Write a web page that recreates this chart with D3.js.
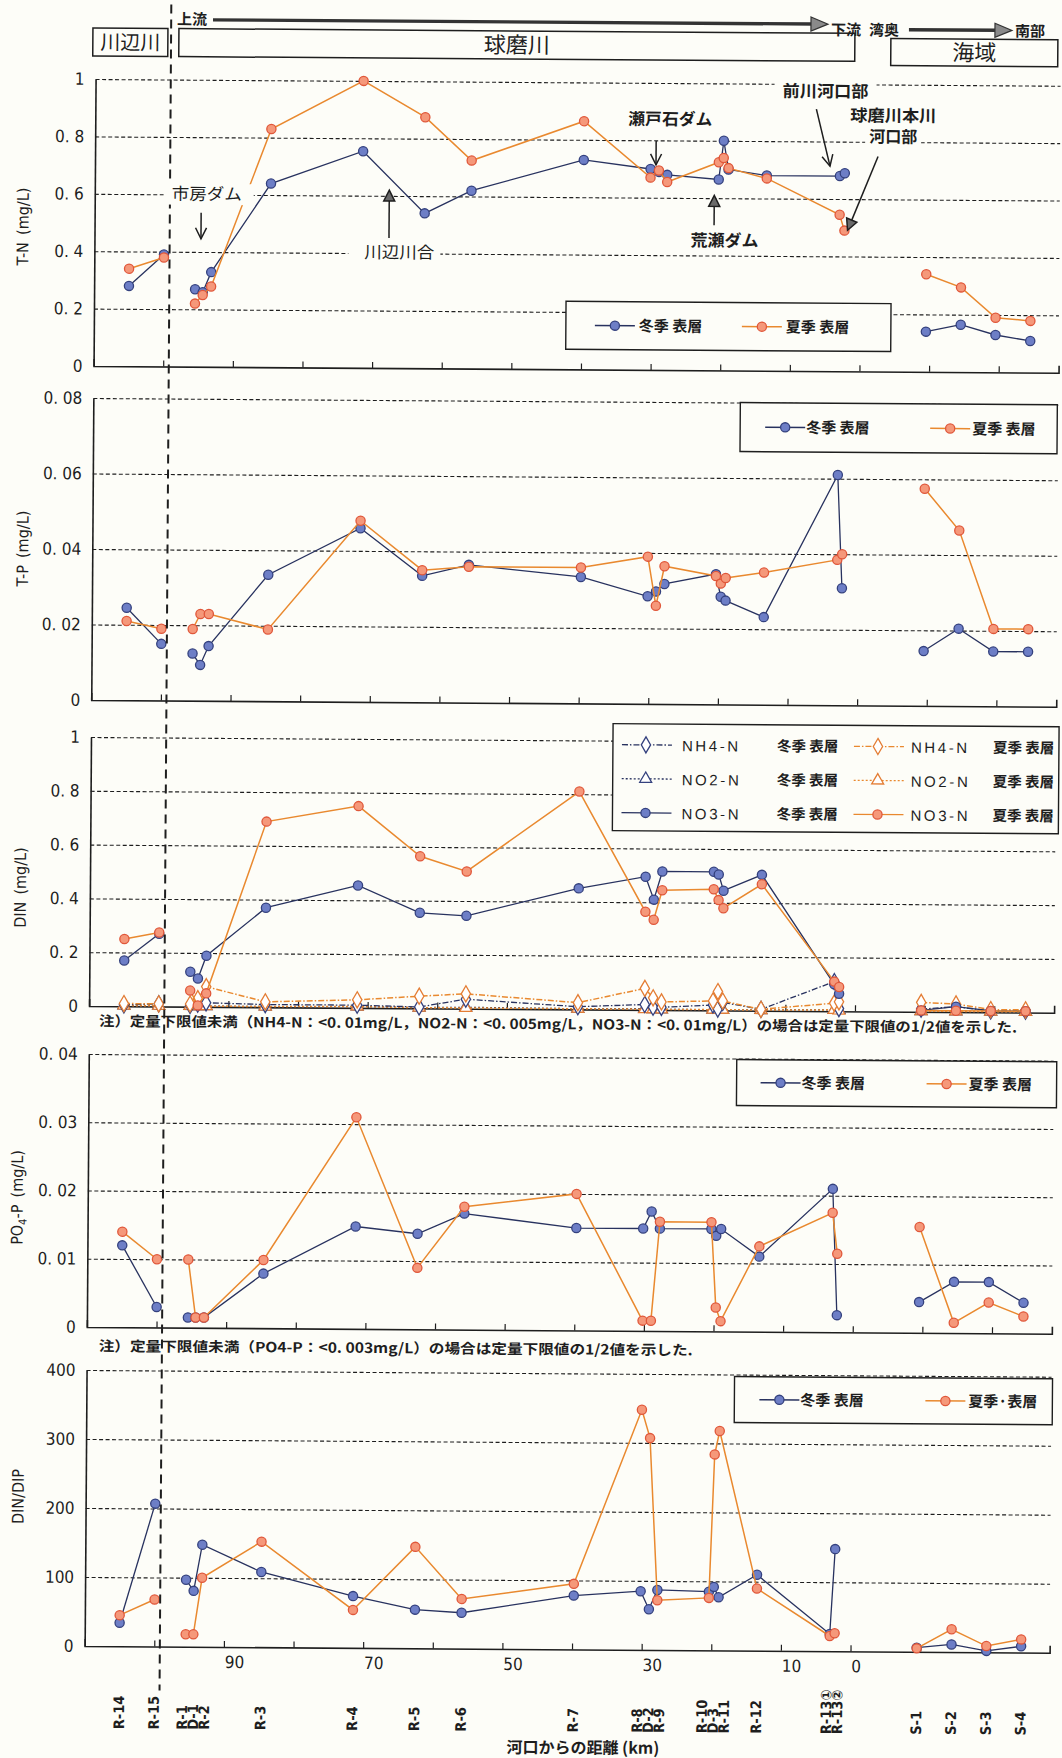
<!DOCTYPE html>
<html lang="ja">
<head>
<meta charset="utf-8">
<title>球磨川 水質縦断図</title>
<script src="https://cdn.jsdelivr.net/npm/d3@7"></script>
<style>
  body { margin: 0; background: #fdfdf8; }
  svg { display: block; }
</style>
</head>
<body>
<div id="chart"></div>
<script>
"use strict";

// stations, upstream (left) to sea (right); sea stations get pseudo km past the mouth
const stations = ["R-14", "R-15", "R-1", "D-1", "R-2", "R-3", "R-4", "R-5", "R-6", "R-7",
  "R-8", "D-2", "R-9", "R-10", "D-3", "R-11", "R-12", "R-13①", "R-13②", "S-1", "S-2", "S-3", "S-4"];
const stationKm = [105, 100, 95.5, 94.4, 93.2, 84.7, 71.5, 62.6, 55.9, 39.8,
  30.2, 29.0, 27.8, 20.4, 19.7, 19.0, 13.5, 3.0, 2.3, -9.5, -14.5, -19.5, -24.5];
const runs = [[0, 1], [2, 18], [19, 22]];   // index ranges joined by a line

const xTicksKm = [100, 90, 80, 70, 60, 50, 40, 30, 20, 10, 0, -10, -20];
const xLabelsKm = [90, 70, 50, 30, 10, 0];

const tnTicks = [0, 0.2, 0.4, 0.6, 0.8, 1];
const tpTicks = [0, 0.02, 0.04, 0.06, 0.08];
const dinTicks = [0, 0.2, 0.4, 0.6, 0.8, 1];
const po4Ticks = [0, 0.01, 0.02, 0.03, 0.04];
const ratioTicks = [0, 100, 200, 300, 400];

const tnWinter = [0.28, 0.39, 0.27, 0.26, 0.33, 0.64, 0.755, 0.54, 0.62, 0.73,
  0.70, 0.69, 0.68, 0.665, 0.80, 0.70, 0.68, 0.68, 0.69, 0.14, 0.165, 0.13, 0.11];
const tnSummer = [0.34, 0.38, 0.22, 0.25, 0.28, 0.83, 1.0, 0.875, 0.725, 0.865,
  0.67, 0.695, 0.655, 0.725, 0.74, 0.705, 0.67, 0.545, 0.49, 0.34, 0.295, 0.19, 0.18];

const tpWinter = [0.0245, 0.015, 0.0125, 0.0095, 0.0145, 0.0335, 0.046, 0.0335, 0.0365, 0.0335,
  0.0285, 0.0298, 0.0318, 0.0345, 0.0285, 0.0275, 0.0232, 0.061, 0.031, 0.0145, 0.0205, 0.0145, 0.0145];
const tpSummer = [0.021, 0.019, 0.019, 0.023, 0.023, 0.019, 0.048, 0.035, 0.036, 0.036,
  0.039, 0.026, 0.0365, 0.034, 0.032, 0.0335, 0.035, 0.0385, 0.040, 0.0575, 0.0465, 0.0205, 0.0205];

const no3Winter = [0.17, 0.27, 0.13, 0.105, 0.19, 0.37, 0.455, 0.355, 0.345, 0.45,
  0.495, 0.41, 0.515, 0.515, 0.505, 0.445, 0.505, 0.10, 0.065, 0.005, 0.02, 0.005, 0.005];
const no3Summer = [0.25, 0.275, 0.06, 0.005, 0.05, 0.69, 0.75, 0.565, 0.51, 0.81,
  0.365, 0.335, 0.445, 0.45, 0.41, 0.38, 0.47, 0.11, 0.09, 0.005, 0.005, 0.005, 0.005];
const nh4Winter = [0.005, 0.01, 0.005, 0.01, 0.015, 0.01, 0.01, 0.005, 0.035, 0.01,
  0.02, 0.01, 0.01, 0.02, 0.005, 0.03, 0.005, 0.11, 0.01, 0.01, 0.02, 0.005, 0.005];
const nh4Summer = [0.01, 0.01, 0.01, 0.03, 0.075, 0.02, 0.03, 0.045, 0.055, 0.025,
  0.08, 0.045, 0.03, 0.035, 0.07, 0.035, 0.005, 0.03, 0.035, 0.035, 0.03, 0.01, 0.01];
const no2Winter = [0.0025, 0.0025, 0.0025, 0.0025, 0.0025, 0.0025, 0.005, 0.0025, 0.005, 0.0025,
  0.005, 0.0025, 0.0025, 0.0025, 0.0025, 0.0025, 0.0025, 0.005, 0.005, 0.0025, 0.0025, 0.0025, 0.0025];
const no2Summer = [0.0025, 0.0025, 0.0025, 0.0025, 0.0025, 0.0025, 0.005, 0.0025, 0.0025, 0.0025,
  0.0025, 0.0025, 0.0025, 0.0025, 0.0025, 0.0025, 0.0025, 0.005, 0.0025, 0.0025, 0.0025, 0.0025, 0.0025];

const po4Winter = [0.012, 0.003, 0.0015, 0.0015, 0.0015, 0.008, 0.015, 0.014, 0.017, 0.015,
  0.015, 0.0175, 0.015, 0.015, 0.014, 0.015, 0.011, 0.021, 0.0025, 0.0045, 0.0075, 0.0075, 0.0045];
const po4Summer = [0.014, 0.010, 0.010, 0.0015, 0.0015, 0.010, 0.031, 0.009, 0.018, 0.020,
  0.0015, 0.0015, 0.016, 0.016, 0.0035, 0.0015, 0.0125, 0.0175, 0.0115, 0.0155, 0.0015, 0.0045, 0.0025];

const ratioWinter = [34, 207, 97, 81, 148, 109, 75, 56, 52, 78,
  85, 59, 87, 85, 92, 77, 110, 25, 148, 6, 11, 2, 9];
const ratioSummer = [45, 68, 18, 18, 100, 153, 55, 147, 72, 95,
  348, 307, 72, 76, 284, 318, 90, 22, 26, 5, 33, 9, 19];

// ---------- drawing ----------
const W = 1062, H = 1758;
const X0 = 90, X1 = 1055;
const fontNum = '"Liberation Sans Narrow","DejaVu Sans Condensed","Liberation Sans",sans-serif';
const fontJa = '"Noto Sans CJK JP","Noto Sans CJK SC",sans-serif';
const ink = "#1e1e1e";
const bg = "#fdfdf8";
const col = {
  w: { line: "#28325f", fill: "#6d7ec6", stroke: "#34417e", open: "#34417e" },
  s: { line: "#e9892f", fill: "#f5987a", stroke: "#e0573a", open: "#e47d34" }
};

const svg = d3.select("#chart").append("svg").attr("width", W).attr("height", H);
svg.append("rect").attr("width", W).attr("height", H).attr("fill", bg);
// the scanned page sits slightly rotated
const root = svg.append("g").attr("transform", "rotate(0.4,90,879)");

const x = d3.scaleLinear().domain([110, -28.6]).range([X0, X1]);
const fmtTick = t => String(+t.toFixed(4)).replace(".", ". ");

function mark(sel, shape, kind, cx, cy) {
  const c = col[kind];
  if (shape === "circle") {
    sel.append("circle").attr("cx", cx).attr("cy", cy).attr("r", 4.6)
      .attr("fill", c.fill).attr("stroke", c.stroke).attr("stroke-width", 1.3);
  } else {
    const sym = shape === "diamond" ? d3.symbol(d3.symbolDiamond, 75) : d3.symbol(d3.symbolTriangle, 62);
    sel.append("path").attr("transform", `translate(${cx},${cy})`).attr("d", sym())
      .attr("fill", "#fff").attr("stroke", c.open).attr("stroke-width", 1.3);
  }
}

const panels = [
  { top: 79, bottom: 366, max: 1, ticks: tnTicks, title: "T-N\u2002(mg/L)", tx: 24, ty: 227,
    series: [{ v: tnWinter, kind: "w", shape: "circle" }, { v: tnSummer, kind: "s", shape: "circle" }],
    legend: { x: 562, y: 298, w: 325, h: 48, items: [
      { kind: "w", shape: "circle", lx: 29, tx: 73, label: "冬季 表層" },
      { kind: "s", shape: "circle", lx: 176, tx: 220, label: "夏季 表層" }] } },
  { top: 398, bottom: 700, max: 0.08, ticks: tpTicks, title: "T-P\u2002(mg/L)", tx: 26, ty: 549,
    series: [{ v: tpWinter, kind: "w", shape: "circle" }, { v: tpSummer, kind: "s", shape: "circle" }],
    legend: { x: 737, y: 398, w: 317, h: 49, items: [
      { kind: "w", shape: "circle", lx: 25, tx: 66, label: "冬季 表層" },
      { kind: "s", shape: "circle", lx: 190, tx: 232, label: "夏季 表層" }] } },
  { top: 737, bottom: 1006, max: 1, ticks: dinTicks, title: "DIN\u2002(mg/L)", tx: 26, ty: 888,
    series: [
      { v: no2Winter, kind: "w", shape: "triangle", dash: "2,2" },
      { v: no2Summer, kind: "s", shape: "triangle", dash: "2,2" },
      { v: nh4Winter, kind: "w", shape: "diamond", dash: "6,2,1.5,2" },
      { v: nh4Summer, kind: "s", shape: "diamond", dash: "6,2,1.5,2" },
      { v: no3Winter, kind: "w", shape: "circle" },
      { v: no3Summer, kind: "s", shape: "circle" }] },
  { top: 1054, bottom: 1327, max: 0.04, ticks: po4Ticks, title: null, tx: 25, ty: 1198,
    series: [{ v: po4Winter, kind: "w", shape: "circle" }, { v: po4Summer, kind: "s", shape: "circle" }],
    legend: { x: 738, y: 1055, w: 320, h: 46, items: [
      { kind: "w", shape: "circle", lx: 24, tx: 65, label: "冬季 表層" },
      { kind: "s", shape: "circle", lx: 190, tx: 232, label: "夏季 表層" }] } },
  { top: 1370, bottom: 1646, max: 400, ticks: ratioTicks, title: "DIN/DIP", tx: 28, ty: 1497,
    series: [{ v: ratioWinter, kind: "w", shape: "circle" }, { v: ratioSummer, kind: "s", shape: "circle" }],
    legend: { x: 738, y: 1372, w: 318, h: 46, items: [
      { kind: "w", shape: "circle", lx: 25, tx: 66, label: "冬季 表層" },
      { kind: "s", shape: "circle", lx: 191, tx: 234, label: "夏季·表層" }] } }
];

function drawLegend(g, L) {
  const lg = g.append("g").attr("transform", `translate(${L.x},${L.y})`);
  lg.append("rect").attr("width", L.w).attr("height", L.h).attr("fill", bg)
    .attr("stroke", ink).attr("stroke-width", 1.4);
  L.items.forEach(it => {
    const cy = L.h / 2;
    lg.append("line").attr("x1", it.lx).attr("x2", it.lx + 40).attr("y1", cy).attr("y2", cy)
      .attr("stroke", col[it.kind].line).attr("stroke-width", 1.5);
    mark(lg, it.shape, it.kind, it.lx + 20, cy);
    lg.append("text").attr("x", it.tx).attr("y", cy + 5.5).text(it.label)
      .attr("font-family", fontJa).attr("font-weight", 700).attr("font-size", 15).attr("fill", ink);
  });
}

panels.forEach(p => {
  const g = root.append("g");
  const y = d3.scaleLinear().domain([0, p.max]).range([p.bottom, p.top]);

  // dashed grid
  g.append("g").attr("transform", `translate(${X0},0)`)
    .call(d3.axisRight(y).tickValues(p.ticks.slice(1)).tickSize(X1 - X0).tickFormat(""))
    .call(a => a.select(".domain").remove())
    .call(a => a.selectAll("line").attr("stroke", ink).attr("stroke-width", 1.1).attr("stroke-dasharray", "4,2.5"));

  // y axis
  g.append("g").attr("transform", `translate(${X0},0)`)
    .call(d3.axisLeft(y).tickValues(p.ticks).tickSize(0).tickSizeOuter(0).tickPadding(11).tickFormat(fmtTick))
    .call(a => a.select(".domain").attr("stroke", ink).attr("stroke-width", 1.6))
    .call(a => a.selectAll("text").attr("font-family", fontNum).attr("font-size", 17).attr("fill", ink));

  // x axis with inward ticks
  g.append("g").attr("transform", `translate(0,${p.bottom})`)
    .call(d3.axisBottom(x).tickValues(xTicksKm).tickSize(-6).tickSizeOuter(-7).tickFormat(""))
    .call(a => a.select(".domain").attr("stroke", ink).attr("stroke-width", 1.6))
    .call(a => a.selectAll("line").attr("stroke", ink).attr("stroke-width", 1.2));

  // axis title
  const t = g.append("text").attr("transform", `translate(${p.tx},${p.ty}) rotate(-90)`)
    .attr("text-anchor", "middle").attr("font-family", fontNum).attr("font-size", 16).attr("fill", ink);
  if (p.title) t.text(p.title);
  else {
    t.append("tspan").text("PO");
    t.append("tspan").attr("font-size", 11).attr("dy", 4).text("4");
    t.append("tspan").attr("dy", -4).text("-P\u2002(mg/L)");
  }

  // series
  p.series.forEach(s => {
    const sg = g.append("g");
    runs.forEach(([a, b]) => {
      const idx = d3.range(a, b + 1);
      sg.append("path")
        .attr("d", d3.line().x(i => x(stationKm[i])).y(i => y(s.v[i]))(idx))
        .attr("fill", "none").attr("stroke", col[s.kind].line)
        .attr("stroke-width", s.kind === "s" ? 1.5 : 1.3)
        .attr("stroke-dasharray", s.dash || null);
    });
    s.v.forEach((v, i) => mark(sg, s.shape, s.kind, x(stationKm[i]), y(v)));
  });

  if (p.legend) drawLegend(g, p.legend);
});

// DIN legend (three rows)
{
  const lg = root.append("g").attr("transform", "translate(612,720)");
  lg.append("rect").attr("width", 446).attr("height", 107).attr("fill", bg)
    .attr("stroke", ink).attr("stroke-width", 1.4);
  const rows = [
    { name: "NH4-N", shape: "diamond", dash: "6,2,1.5,2", y: 21 },
    { name: "NO2-N", shape: "triangle", dash: "2,2", y: 55 },
    { name: "NO3-N", shape: "circle", dash: null, y: 89 }
  ];
  const cols = [
    { kind: "w", lx: 9, tx: 69, sx: 164, season: "冬季 表層" },
    { kind: "s", lx: 241, tx: 298, sx: 380, season: "夏季 表層" }
  ];
  rows.forEach(r => cols.forEach(c => {
    lg.append("line").attr("x1", c.lx).attr("x2", c.lx + 50).attr("y1", r.y).attr("y2", r.y)
      .attr("stroke", col[c.kind].line).attr("stroke-width", 1.3).attr("stroke-dasharray", r.dash);
    mark(lg, r.shape, c.kind, c.lx + 24, r.y);
    lg.append("text").attr("x", c.tx).attr("y", r.y + 6).text(r.name)
      .attr("font-family", '"Liberation Sans","DejaVu Sans",sans-serif').attr("font-size", 15)
      .attr("letter-spacing", 2.6).attr("fill", ink);
    lg.append("text").attr("x", c.sx).attr("y", r.y + 5.5).text(c.season)
      .attr("font-family", fontJa).attr("font-weight", 700).attr("font-size", 14.5).attr("fill", ink);
  }));
}

// notes
root.append("text").attr("x", 100).attr("y", 1026)
  .text("注）定量下限値未満（NH4-N：<0. 01mg/L，NO2-N：<0. 005mg/L，NO3-N：<0. 01mg/L）の場合は定量下限値の1/2値を示した.")
  .attr("font-family", fontJa).attr("font-size", 14).attr("font-weight", 700).attr("fill", ink)
  .attr("textLength", 918).attr("lengthAdjust", "spacingAndGlyphs");
root.append("text").attr("x", 102).attr("y", 1351)
  .text("注）定量下限値未満（PO4-P：<0. 003mg/L）の場合は定量下限値の1/2値を示した.")
  .attr("font-family", fontJa).attr("font-size", 14).attr("font-weight", 700).attr("fill", ink)
  .attr("textLength", 594).attr("lengthAdjust", "spacingAndGlyphs");

// bottom km labels
root.append("g").selectAll("text").data(xLabelsKm).join("text")
  .attr("x", d => x(d) + 1).attr("y", 1667).text(d => d)
  .attr("font-family", fontNum).attr("font-size", 17).attr("fill", ink);

// station labels, spread apart where stations crowd together
function spread(xs, gap) {
  const pos = xs.slice();
  for (let k = 0; k < 60; k++) {
    for (let i = 1; i < pos.length; i++) {
      const d = pos[i] - pos[i - 1];
      if (d < gap) { const m = (gap - d) / 2; pos[i - 1] -= m; pos[i] += m; }
    }
  }
  return pos;
}
const labelX = spread(stationKm.map(k => x(k)), 11);
root.append("g").selectAll("text").data(stations).join("text")
  .attr("transform", (d, i) => `translate(${labelX[i] + 5},1729) rotate(-90)`)
  .text(d => d)
  .attr("font-family", fontNum).attr("font-weight", 700).attr("font-size", 14.5).attr("fill", ink);

root.append("text").attr("x", 589).attr("y", 1750).attr("text-anchor", "middle")
  .text("河口からの距離 (km)").attr("font-family", fontJa).attr("font-weight", 700)
  .attr("font-size", 16).attr("fill", ink);

// ---------- header ----------
const head = root.append("g");
function box(x0, y0, x1, y1, label, fs) {
  head.append("rect").attr("x", x0).attr("y", y0).attr("width", x1 - x0).attr("height", y1 - y0)
    .attr("fill", bg).attr("stroke", ink).attr("stroke-width", 1.5);
  head.append("text").attr("x", (x0 + x1) / 2).attr("y", (y0 + y1) / 2 + fs * 0.36)
    .attr("text-anchor", "middle").text(label)
    .attr("font-family", fontJa).attr("font-size", fs).attr("fill", ink);
}
box(87, 28, 162, 56, "川辺川", 20);
box(173, 28, 849, 56, "球磨川", 22);
box(885, 33, 1052, 60, "海域", 22);

function bigArrow(x0, x1, yy) {
  head.append("line").attr("x1", x0).attr("x2", x1 - 14).attr("y1", yy).attr("y2", yy)
    .attr("stroke", "#333").attr("stroke-width", 3.4);
  head.append("path").attr("d", `M${x1 - 17},${yy - 7}L${x1},${yy}L${x1 - 17},${yy + 7}Z`)
    .attr("fill", "#8a8a8a").attr("stroke", "#333").attr("stroke-width", 1.2);
}
bigArrow(207, 822, 19);
bigArrow(903, 1006, 24);
[["上流", 171, 24], ["下流", 825, 30], ["湾奥", 863, 30], ["南部", 1009, 30]].forEach(([s, tx, ty]) => {
  head.append("text").attr("x", tx).attr("y", ty).text(s)
    .attr("font-family", fontJa).attr("font-weight", 700).attr("font-size", 15).attr("fill", ink);
});

// dashed boundary between 川辺川 and 球磨川
root.append("line").attr("x1", x(99.2)).attr("x2", x(99.2)).attr("y1", 4).attr("y2", 1690)
  .attr("stroke", ink).attr("stroke-width", 2).attr("stroke-dasharray", "9,6");

// ---------- annotations in the T-N panel ----------
const ann = root.append("g");
const notes = [
  { s: "市房ダム", x: 167, y: 199, w: 70, bold: false, pl: 8, pr: 12 },
  { s: "川辺川合", x: 360, y: 256, w: 70, bold: false, pl: 16, pr: 6 },
  { s: "瀬戸石ダム", x: 623, y: 121, w: 84, bold: true, pl: 4, pr: 4 },
  { s: "荒瀬ダム", x: 686, y: 242, w: 68, bold: true, pl: 4, pr: 4 },
  { s: "前川河口部", x: 777, y: 92, w: 86, bold: true, pl: 8, pr: 8 },
  { s: "球磨川本川", x: 845, y: 116, w: 86, bold: true, pl: 8, pr: 8 },
  { s: "河口部", x: 864, y: 137, w: 48, bold: true, pl: 4, pr: 4 }
];
notes.forEach(n => {
  ann.append("rect").attr("x", n.x - n.pl).attr("y", n.y - 16).attr("width", n.w + n.pl + n.pr)
    .attr("height", 21).attr("fill", bg);
});
notes.forEach(n => {
  ann.append("text").attr("x", n.x).attr("y", n.y).text(n.s)
    .attr("font-family", fontJa).attr("font-weight", n.bold ? 700 : 400).attr("font-size", 16.5)
    .attr("textLength", n.w).attr("lengthAdjust", "spacingAndGlyphs").attr("fill", ink);
});

function pointer(x1, y1, x2, y2, filled) {
  const a = Math.atan2(y2 - y1, x2 - x1), L = 11, hw = 5.5;
  const bx = x2 - L * Math.cos(a), by = y2 - L * Math.sin(a);
  const px = -Math.sin(a) * hw, py = Math.cos(a) * hw;
  ann.append("line").attr("x1", x1).attr("y1", y1).attr("x2", filled ? bx : x2).attr("y2", filled ? by : y2)
    .attr("stroke", ink).attr("stroke-width", 1.5);
  ann.append("path")
    .attr("d", `M${bx + px},${by + py}L${x2},${y2}L${bx - px},${by - py}` + (filled ? "Z" : ""))
    .attr("fill", filled ? "#6a6a6a" : "none").attr("stroke", ink).attr("stroke-width", 1.5);
}
pointer(196.5, 212, 196.5, 238, false);
pointer(384.5, 236, 384.5, 188, true);
pointer(651, 137, 651, 161, false);
pointer(709.5, 221, 709.5, 191, true);
pointer(811, 104, 825, 161, false);
pointer(873, 151, 843, 225, true);
</script>
</body>
</html>
